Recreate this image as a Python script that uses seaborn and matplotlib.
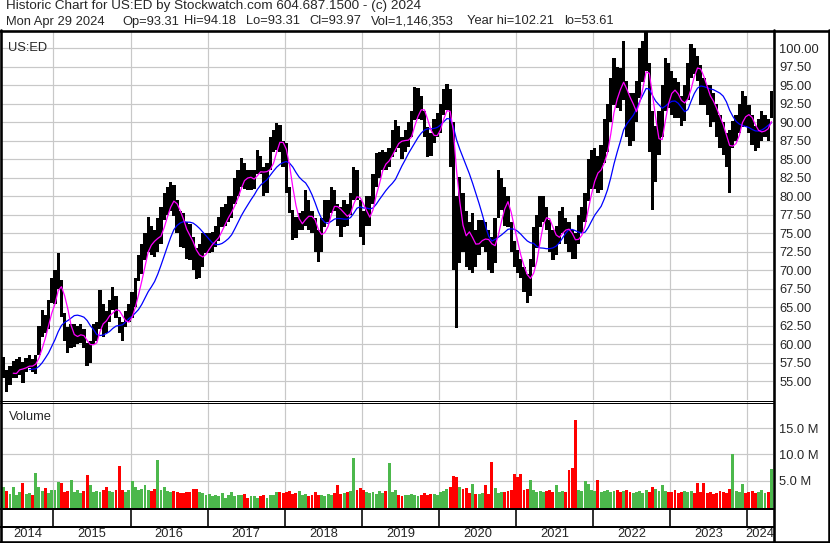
import numpy as np
import pandas as pd
import seaborn as sns
import matplotlib
matplotlib.use("Agg")
import matplotlib.pyplot as plt

W, H = 830, 543

# two periods per month (first / second half), May 2014 .. Apr 2024
lo_2014 = [55.5, 53.6, 54.5, 55.5, 55.5, 55.8, 54.8, 56.3, 56.8, 56.2, 56.0, 58.5, 61.0, 61.5, 62.0, 65.6]
hi_2014 = [58.3, 56.5, 57.0, 57.8, 58.0, 58.3, 57.6, 58.2, 58.5, 58.0, 58.5, 62.5, 64.6, 64.0, 66.0, 69.0]
lo_2015 = [65.5, 67.5, 63.7, 60.5, 58.8, 59.5, 59.6, 60.0, 60.2, 59.5, 57.0, 57.5,
           60.0, 60.5, 62.0, 61.0, 61.5, 63.0, 64.6, 63.5, 61.5, 60.4, 62.3, 63.0]
hi_2015 = [70.0, 72.3, 68.7, 64.2, 62.4, 62.8, 62.8, 62.5, 62.8, 62.0, 60.2, 60.5,
           62.8, 63.0, 67.3, 65.5, 64.5, 66.0, 67.7, 66.5, 63.7, 63.0, 64.5, 65.5]
lo_2016 = [63.5, 65.0, 68.5, 69.5, 71.4, 72.5, 72.0, 71.8, 72.5, 73.6, 76.8, 77.5,
           78.0, 77.3, 75.0, 73.2, 73.0, 71.5, 71.4, 70.0, 68.8, 69.0, 70.5, 72.3]
hi_2016 = [67.0, 69.0, 72.0, 73.6, 75.0, 77.2, 76.0, 75.5, 77.0, 78.6, 80.5, 81.3,
           81.9, 81.5, 79.5, 78.0, 77.7, 76.5, 76.3, 74.5, 73.0, 73.6, 75.0, 75.0]
lo_2017 = [72.3, 72.5, 73.2, 74.0, 75.8, 76.0, 76.5, 77.0, 79.0, 80.0, 81.3, 81.0,
           80.8, 80.8, 81.0, 83.0, 83.0, 80.0, 80.5, 83.5, 86.0, 86.2, 86.0, 84.0]
hi_2017 = [75.0, 75.2, 76.0, 77.2, 78.5, 79.0, 80.0, 80.0, 82.5, 83.5, 85.2, 84.5,
           83.5, 83.5, 83.5, 86.2, 85.5, 84.0, 84.5, 88.0, 89.0, 89.9, 89.7, 87.5]
lo_2018 = [80.4, 77.7, 74.1, 74.3, 75.4, 75.5, 76.0, 75.5, 75.0, 72.5, 71.1, 72.5,
           75.8, 76.5, 77.7, 78.0, 76.0, 74.5, 75.8, 76.0, 77.5, 79.5, 79.5, 74.5]
hi_2018 = [87.2, 81.3, 78.1, 77.2, 77.7, 78.0, 80.8, 79.5, 78.0, 77.0, 75.5, 77.0,
           79.5, 79.5, 81.3, 80.8, 79.0, 78.5, 79.5, 79.0, 80.5, 84.0, 83.5, 79.5]
lo_2019 = [73.4, 76.0, 76.0, 79.0, 81.3, 82.5, 83.5, 83.5, 84.0, 85.3, 86.0, 86.5,
           85.0, 86.0, 86.7, 88.0, 90.3, 90.5, 90.3, 88.0, 85.3, 85.5, 87.2, 88.0]
hi_2019 = [78.0, 80.0, 80.0, 83.0, 85.8, 86.0, 86.2, 86.0, 86.5, 89.0, 90.3, 89.5,
           88.0, 89.0, 90.0, 91.5, 94.8, 94.6, 93.5, 91.5, 89.4, 88.5, 90.5, 91.2]
lo_2020 = [88.5, 91.0, 91.7, 84.0, 70.0, 62.2, 71.0, 72.5, 70.5, 70.0, 69.6, 70.5,
           72.0, 73.2, 72.5, 70.0, 69.6, 71.0, 77.0, 78.1, 76.0, 75.8, 72.5, 70.5]
hi_2020 = [92.5, 94.5, 95.2, 94.5, 90.0, 80.0, 82.6, 80.5, 78.0, 76.5, 77.7, 75.5,
           76.8, 76.8, 76.5, 75.5, 74.5, 77.0, 83.5, 82.5, 81.3, 80.0, 76.5, 74.0]
lo_2021 = [69.6, 69.0, 67.0, 65.6, 66.5, 70.5, 73.0, 75.8, 76.5, 75.5, 72.5, 71.4,
           72.0, 73.5, 75.0, 73.5, 72.5, 71.5, 71.5, 73.5, 75.0, 76.5, 79.4, 81.0]
hi_2021 = [72.7, 71.5, 70.5, 69.5, 71.5, 75.8, 77.5, 80.0, 80.0, 78.5, 76.8, 75.5,
           76.0, 78.0, 78.5, 77.0, 76.5, 75.5, 75.0, 77.5, 78.5, 80.5, 85.0, 86.2]
lo_2022 = [81.0, 80.5, 80.8, 84.5, 86.0, 90.0, 92.3, 92.0, 91.5, 93.0, 88.0, 86.8,
           87.5, 90.0, 93.3, 95.5, 97.0, 86.0, 78.2, 82.0, 85.6, 88.0, 91.5, 92.0]
hi_2022 = [86.5, 85.5, 87.0, 90.5, 92.5, 96.0, 98.7, 97.5, 97.3, 101.0, 95.6, 94.0,
           94.0, 95.6, 100.0, 101.0, 102.2, 98.0, 91.5, 89.5, 91.5, 95.0, 98.7, 98.0]
lo_2023 = [91.0, 90.6, 90.6, 89.5, 90.2, 93.0, 96.0, 96.5, 95.6, 92.3, 92.3, 91.0,
           89.3, 90.0, 88.0, 86.5, 85.6, 84.0, 80.4, 86.5, 87.5, 88.5, 89.3, 89.5]
hi_2023 = [97.0, 96.0, 95.5, 93.5, 95.0, 98.0, 100.6, 100.0, 99.0, 97.7, 96.0, 95.0,
           95.0, 94.0, 92.5, 91.0, 90.0, 88.5, 89.0, 90.2, 91.0, 92.5, 94.2, 93.5]
lo_2024 = [88.5, 87.0, 86.1, 86.5, 87.5, 88.0, 87.5, 90.6]
hi_2024 = [92.3, 91.0, 89.5, 90.5, 91.5, 91.0, 90.5, 94.2]

# volume, millions of shares
vol_2014 = [4.0, 3.2, 2.6, 4.0, 2.5, 3.0, 4.8, 2.6, 2.8, 2.5, 6.6, 4.0, 3.2, 3.8, 2.8, 3.4]
vol_2015 = [3.5, 5.0, 4.7, 3.0, 3.2, 5.4, 3.0, 3.5, 2.8, 3.2, 6.3, 4.4,
            3.0, 3.2, 3.0, 3.5, 4.0, 3.2, 3.0, 3.4, 8.0, 3.4, 3.0, 3.5]
vol_2016 = [5.2, 4.0, 3.5, 3.6, 4.3, 3.4, 3.2, 3.6, 9.1, 3.5, 4.0, 3.2,
            3.0, 3.2, 3.0, 2.8, 2.8, 3.0, 3.0, 3.6, 3.6, 3.0, 2.8, 2.5]
vol_2017 = [2.6, 2.3, 2.5, 2.2, 2.8, 2.0, 2.4, 3.0, 2.2, 2.5, 2.4, 2.6,
            2.0, 2.2, 2.3, 2.0, 2.2, 2.5, 2.0, 2.4, 2.5, 3.0, 3.0, 2.8]
vol_2018 = [3.0, 3.2, 2.6, 2.8, 3.2, 2.4, 2.6, 2.3, 2.5, 3.0, 2.4, 2.5,
            2.3, 2.6, 2.5, 2.8, 4.4, 2.6, 2.8, 3.0, 3.2, 9.5, 3.5, 3.8]
vol_2019 = [3.4, 3.0, 2.8, 3.0, 2.6, 3.2, 2.8, 3.2, 8.6, 3.0, 3.5, 2.4,
            2.2, 2.5, 2.4, 2.6, 2.5, 2.2, 2.4, 2.8, 2.5, 2.6, 2.7, 2.5]
vol_2020 = [3.0, 3.2, 3.6, 4.0, 6.2, 6.0, 4.0, 3.6, 3.9, 2.8, 4.5, 2.7,
            2.6, 2.8, 4.3, 2.6, 8.8, 3.9, 2.8, 3.0, 3.0, 3.2, 3.4, 6.4]
vol_2021 = [5.9, 6.4, 3.5, 3.6, 5.4, 3.4, 3.0, 3.2, 3.0, 3.2, 3.4, 3.0,
            4.3, 3.0, 3.2, 3.0, 7.2, 7.7, 16.8, 3.5, 3.2, 5.1, 4.6, 3.4]
vol_2022 = [3.2, 5.4, 3.0, 3.2, 3.4, 3.0, 3.2, 3.5, 3.0, 3.3, 3.5, 3.0,
            2.8, 3.0, 3.2, 2.8, 3.4, 3.0, 4.0, 3.6, 3.3, 4.3, 3.2, 3.0]
vol_2023 = [3.0, 3.4, 2.8, 3.0, 3.2, 3.0, 3.3, 2.8, 4.8, 3.0, 4.8, 2.8,
            3.0, 2.6, 2.8, 3.2, 3.0, 2.8, 3.6, 10.3, 3.2, 3.0, 4.5, 2.8]
vol_2024 = [3.0, 3.2, 2.8, 3.0, 3.4, 2.8, 3.0, 7.4]

year_labels = ["2014", "2015", "2016", "2017", "2018", "2019",
               "2020", "2021", "2022", "2023", "2024"]
price_ticks = [55.0, 57.5, 60.0, 62.5, 65.0, 67.5, 70.0, 72.5, 75.0, 77.5,
               80.0, 82.5, 85.0, 87.5, 90.0, 92.5, 95.0, 97.5, 100.0]
volume_ticks = [5, 10, 15]
volume_tick_labels = ["5.0 M", "10.0 M", "15.0 M"]

title_line = "Historic Chart for US:ED by Stockwatch.com 604.687.1500 - (c) 2024"
quote_parts = ["Mon Apr 29 2024", "Op=93.31", "Hi=94.18", "Lo=93.31",
               "Cl=93.97", "Vol=1,146,353", "Year hi=102.21", "lo=53.61"]
quote_x = [7, 123, 185, 247, 310, 372, 468, 565]

lo_years = [lo_2014, lo_2015, lo_2016, lo_2017, lo_2018, lo_2019,
            lo_2020, lo_2021, lo_2022, lo_2023, lo_2024]
hi_years = [hi_2014, hi_2015, hi_2016, hi_2017, hi_2018, hi_2019,
            hi_2020, hi_2021, hi_2022, hi_2023, hi_2024]
vol_years = [vol_2014, vol_2015, vol_2016, vol_2017, vol_2018, vol_2019,
             vol_2020, vol_2021, vol_2022, vol_2023, vol_2024]

counts = np.array([len(v) for v in lo_years])
starts = np.concatenate([[0], np.cumsum(counts)[:-1]])
year_edges = starts[1:]
year_centers = starts + counts / 2

df = pd.DataFrame({
    "lo": sum(lo_years, []),
    "hi": sum(hi_years, []),
    "vol": sum(vol_years, []),
})
df["x"] = np.arange(len(df)) + 0.5
df["mid"] = (df["lo"] + df["hi"]) / 2
df["ma_fast"] = df["mid"].rolling(4).mean()
df["ma_slow"] = df["mid"].rolling(12, min_periods=9).mean()
df["up"] = df["mid"].diff().fillna(1) >= 0
n = len(df)

sns.set_style("white")
plt.rcParams["font.family"] = ["Liberation Sans", "DejaVu Sans"]
FS = 9.3
GRID = "#c8c8c8"
PX = 0.72  # one pixel in points


def px_box(x0, y0, x1, y1):
    return [x0 / W, 1 - y1 / H, (x1 - x0) / W, (y1 - y0) / H]


fig = plt.figure(figsize=(W / 100, H / 100), dpi=100)
ax_p = fig.add_axes(px_box(2, 31, 773, 400))
ax_v = fig.add_axes(px_box(2, 402, 773, 508))
ax_d = fig.add_axes(px_box(2, 508, 773, 541))

for ax in (ax_p, ax_v, ax_d):
    ax.set_xlim(0, n)
    for s in ax.spines.values():
        s.set_visible(False)
    ax.set_facecolor("white")

# price panel
ax_p.set_ylim(52.47, 102.34)
ax_p.set_xticks(year_edges)
ax_p.set_yticks(price_ticks)
ax_p.set_yticklabels([f"{t:.2f}" for t in price_ticks])
ax_p.yaxis.tick_right()
ax_p.tick_params(axis="y", length=0, pad=4.5, labelsize=FS)
ax_p.tick_params(axis="x", length=0, labelbottom=False)
ax_p.grid(True, color=GRID, lw=PX * 1.2)
ax_p.set_axisbelow(True)
ax_p.bar(df["x"], df["hi"] - df["lo"], bottom=df["lo"], width=1.02,
         color="black", linewidth=0, zorder=2)
sns.lineplot(data=df, x="x", y="ma_slow", ax=ax_p, color="#0000ff", lw=0.9, zorder=3)
sns.lineplot(data=df, x="x", y="ma_fast", ax=ax_p, color="#ff00ff", lw=0.9, zorder=4)
ax_p.set_xlabel("")
ax_p.set_ylabel("")
ax_p.text(0.008, 0.953, "US:ED", transform=ax_p.transAxes, fontsize=FS, va="center")

# volume panel
ax_v.set_ylim(-0.25, 20)
ax_v.set_xticks(year_edges)
ax_v.set_yticks(volume_ticks)
ax_v.set_yticklabels(volume_tick_labels)
ax_v.yaxis.tick_right()
ax_v.tick_params(axis="y", length=0, pad=4.5, labelsize=FS)
ax_v.tick_params(axis="x", length=0, labelbottom=False)
ax_v.grid(True, color=GRID, lw=PX * 1.2)
ax_v.set_axisbelow(True)
vcol = np.where(df["up"], "#4cb84c", "#ff0000")
ax_v.bar(df["x"], df["vol"], bottom=-0.25, width=0.9, color=vcol, linewidth=0, zorder=2)
ax_v.text(0.009, 0.86, "Volume", transform=ax_v.transAxes, fontsize=FS, va="center")

# date strip
ax_d.set_ylim(0, 1)
ax_d.set_xticks([])
ax_d.set_yticks([])
ax_d.vlines(year_edges, 0.42, 1, color="black", lw=PX * 1.6)
for c, lab in zip(year_centers, year_labels):
    ax_d.text(c, 0.2, lab, ha="center", va="center", fontsize=FS)

# frame and header
ov = fig.add_axes([0, 0, 1, 1], zorder=10)
ov.set_xlim(0, W)
ov.set_ylim(H, 0)
ov.axis("off")
ov.patch.set_alpha(0)
thick = PX * 2.6
ov.plot([0, W], [31, 31], color="black", lw=thick)
ov.plot([0, W], [541.8, 541.8], color="black", lw=thick)
ov.plot([1, 1], [30, H], color="black", lw=thick)
ov.plot([828.8, 828.8], [30, H], color="black", lw=thick)
ov.plot([774, 774], [30, H], color="black", lw=thick)
ov.plot([0, 774], [400.5, 400.5], color="black", lw=PX)
ov.plot([0, 774], [402.5, 402.5], color="black", lw=PX)
ov.plot([0, 774], [509, 509], color="black", lw=PX * 2)
ov.plot([0, 774], [527, 527], color="black", lw=PX * 2)

ov.text(6, 9.5, title_line, fontsize=FS + 0.4, va="baseline")
for xp, part in zip(quote_x, quote_parts):
    ov.text(xp - 1, 24.5, part, fontsize=FS, va="baseline")

fig.savefig("out.png", dpi=100)
